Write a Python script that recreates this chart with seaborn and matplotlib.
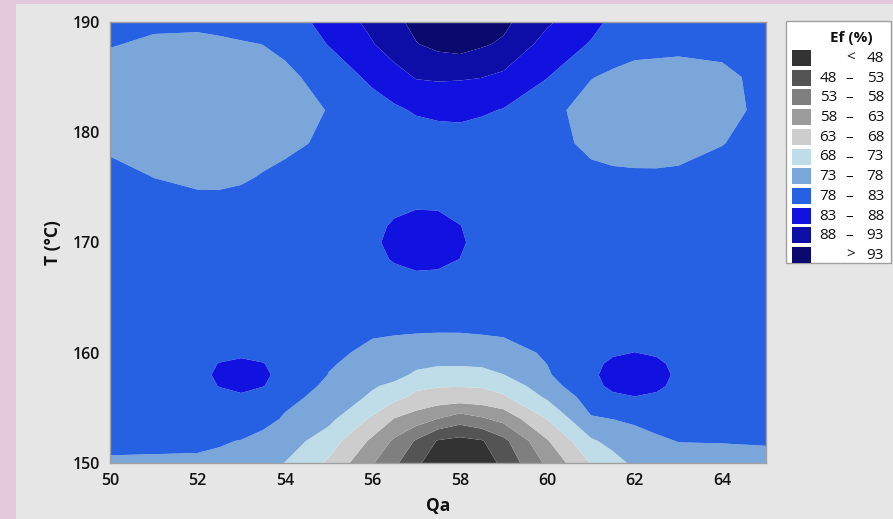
import numpy as np
import matplotlib
matplotlib.use("Agg")
import matplotlib.pyplot as plt
import seaborn as sns
from matplotlib.patches import Rectangle

# ---- data (Ef % on a Qa x T grid) ----
qa = [50, 51, 52, 52.5, 53, 53.5, 54, 55, 56, 56.5, 57, 57.5, 58, 58.5, 59, 60, 61, 61.5, 62, 62.5, 63, 64, 65]
temp = [150, 152, 154, 156, 157, 158, 159, 160, 162, 164, 167, 168.5, 170, 171.5, 173, 176, 179, 182, 185, 188, 190]

ef_150 = [77.3, 77.2, 77.0, 76.75, 76.5, 74.7, 72.9, 67.2, 58.4, 53.9, 49.55, 43.5, 40.0, 45.0, 49.3, 59.0, 68.3, 71.2, 74.0, 75.3, 76.5, 77.2, 77.3]
ef_152 = [79.3, 79.2, 79.2, 78.5, 77.8, 76.5, 75.2, 70.6, 62.0, 57.2, 52.5, 47.6, 46.5, 47.6, 51.7, 62.6, 72.3, 74.55, 76.8, 77.45, 78.1, 78.1, 78.2]
ef_154 = [80.3, 80.5, 81.5, 81.5, 81.5, 79.5, 77.5, 74.2, 67.2, 62.8, 60.6, 57.9, 55.3, 57.3, 59.6, 68.2, 77.6, 78.05, 78.5, 79.25, 80.0, 80.5, 80.5]
ef_156 = [80.3, 80.5, 81.0, 81.75, 82.6, 81.2, 79.2, 76.6, 72.2, 69.5, 67.0, 66.2, 66.1, 66.3, 67.4, 73.8, 80.1, 82.5, 82.95, 82.5, 81.8, 80.8, 80.5]
ef_157 = [80.4, 80.7, 81.4, 83.16, 83.73, 83.16, 81.0, 77.0, 73.5, 72.0, 68.9, 68.3, 68.2, 68.4, 70.0, 75.8, 82.13, 83.65, 84.16, 83.65, 82.13, 81.2, 80.6]
ef_158 = [80.5, 81.0, 81.9, 83.62, 84.2, 83.62, 81.9, 77.9, 76.9, 74.5, 72.2, 70.8, 70.3, 71.0, 72.9, 77.5, 82.47, 83.99, 84.5, 83.99, 82.47, 81.5, 80.8]
ef_159 = [80.5, 81.0, 81.4, 83.16, 83.73, 83.16, 81.4, 78.3, 76.8, 75.5, 74.0, 73.6, 73.7, 73.9, 75.0, 78.05, 82.13, 83.65, 84.16, 83.65, 82.13, 81.2, 80.6]
ef_160 = [80.5, 80.8, 81.0, 81.75, 82.3, 81.75, 80.5, 78.7, 77.3, 77.1, 77.0, 77.0, 77.05, 77.1, 77.3, 78.23, 81.0, 82.6, 83.05, 82.6, 82.0, 81.0, 80.5]
ef_162 = [80.5, 80.6, 81.0, 81.1, 81.2, 80.85, 80.5, 79.6, 78.4, 78.25, 78.15, 78.1, 78.1, 78.2, 78.3, 79.5, 80.5, 80.9, 81.3, 81.15, 81.0, 80.7, 80.5]
ef_164 = [80.5, 80.3, 80.3, 80.4, 80.5, 80.4, 80.3, 80.0, 79.5, 79.4, 79.3, 79.3, 79.3, 79.4, 79.5, 80.0, 80.5, 80.65, 80.8, 80.8, 80.8, 80.8, 80.8]
ef_167 = [80.5, 80.3, 80.2, 80.25, 80.3, 80.4, 80.5, 81.0, 81.3, 81.65, 82.49, 82.33, 81.5, 81.2, 81.2, 80.8, 80.5, 80.5, 80.5, 80.5, 80.5, 80.8, 81.0]
ef_168 = [80.5, 80.25, 80.1, 80.15, 80.25, 80.4, 80.5, 81.0, 81.6, 83.45, 84.29, 84.13, 82.97, 81.3, 81.3, 80.8, 80.5, 80.5, 80.5, 80.5, 80.5, 80.8, 81.0]
ef_170 = [80.5, 80.2, 80.0, 80.1, 80.2, 80.35, 80.5, 81.0, 82.26, 84.1, 84.94, 84.78, 83.62, 81.46, 81.2, 80.8, 80.5, 80.5, 80.5, 80.5, 80.5, 80.8, 81.0]
ef_171 = [80.5, 80.1, 79.9, 80.0, 80.1, 80.3, 80.5, 81.0, 81.76, 83.6, 84.44, 84.28, 83.12, 81.4, 81.3, 80.8, 80.5, 80.5, 80.5, 80.5, 80.5, 80.8, 81.0]
ef_173 = [80.5, 80.0, 79.8, 79.9, 80.0, 80.25, 80.5, 81.0, 81.4, 82.3, 82.98, 82.9, 81.7, 81.3, 81.3, 80.8, 80.5, 80.5, 80.5, 80.5, 80.5, 80.8, 81.0]
ef_176 = [79.5, 77.9, 76.8, 76.7, 77.3, 78.3, 79.3, 80.5, 81.0, 81.2, 81.5, 81.4, 81.2, 81.0, 80.8, 80.5, 79.5, 79.1, 79.0, 78.9, 79.2, 80.3, 81.0]
ef_179 = [77.0, 76.0, 75.5, 75.6, 75.8, 76.2, 76.8, 79.0, 80.5, 80.5, 80.5, 80.5, 80.5, 80.5, 80.5, 80.3, 76.6, 75.6, 75.0, 75.2, 75.5, 77.8, 80.5]
ef_182 = [75.5, 75.0, 74.8, 74.9, 75.0, 75.4, 75.8, 78.2, 81.0, 82.2, 83.5, 84.2, 84.5, 83.6, 82.74, 80.5, 74.8, 74.6, 74.5, 74.5, 74.5, 75.5, 80.0]
ef_185 = [76.5, 75.8, 75.5, 75.7, 76.0, 76.4, 76.8, 80.1, 84.0, 86.2, 88.3, 88.6, 88.4, 88.1, 87.0, 83.1, 78.3, 76.8, 75.4, 75.4, 75.5, 76.8, 79.5]
ef_188 = [78.2, 77.5, 77.3, 77.4, 77.7, 78.05, 79.2, 83.2, 87.75, 90.3, 92.8, 94.3, 95.0, 93.6, 92.3, 86.1, 82.65, 81.6, 80.5, 80.0, 79.5, 79.5, 80.0]
ef_190 = [79.0, 78.6, 78.6, 79.0, 79.5, 79.85, 80.2, 84.9, 89.2, 91.8, 94.3, 95.8, 96.5, 95.6, 94.1, 88.7, 84.3, 82.1, 80.0, 79.7, 79.5, 79.5, 80.0]

levels = [48, 53, 58, 63, 68, 73, 78, 83, 88, 93]
level_colors = ["#333333", "#545454", "#7f7f7f", "#9b9b9b", "#cdcdcd", "#bfdde8",
                "#7aa6d9", "#2561e2", "#1212e0", "#0d0da8", "#0a0a6e"]
legend_title = "Ef (%)"
x_label = "Qa"
y_label = "T (°C)"
x_ticks = [50, 52, 54, 56, 58, 60, 62, 64]
y_ticks = [150, 160, 170, 180, 190]

# ---- style ----
sns.set_style("white")
plt.rcParams["font.family"] = ["Open Sans", "DejaVu Sans"]

W, H = 893, 519
fig = plt.figure(figsize=(W / 100, H / 100), dpi=100, facecolor="#e6e6e6")


def fx(x):
    return x / W


def fy(y):
    return 1 - y / H


# pink frame strips
fig.patches.append(Rectangle((0, 0), fx(16), 1, transform=fig.transFigure,
                             facecolor="#e4c8dc", edgecolor="none", zorder=0))
fig.patches.append(Rectangle((0, fy(4)), 1, 4 / H, transform=fig.transFigure,
                             facecolor="#e4c8dc", edgecolor="none", zorder=0))

ax = fig.add_axes([fx(110), fy(463), fx(766) - fx(110), fy(22) - fy(463)])

Z = np.array([ef_150, ef_152, ef_154, ef_156, ef_157, ef_158, ef_159, ef_160, ef_162,
              ef_164, ef_167, ef_168, ef_170, ef_171, ef_173, ef_176, ef_179, ef_182,
              ef_185, ef_188, ef_190])
bounds = [0] + levels + [200]
pal = sns.color_palette(level_colors)
ax.contourf(qa, temp, Z, levels=bounds, colors=pal, antialiased=True)

ax.set_xlim(50, 65)
ax.set_ylim(150, 190)
ax.set_xticks(x_ticks)
ax.set_yticks(y_ticks)
ax.tick_params(axis="both", which="both", direction="out", length=5, width=1,
               color="#a0a0a0", labelsize=11.5, labelcolor="#111111", pad=2)
for lab in ax.get_xticklabels() + ax.get_yticklabels():
    lab.set_fontweight("semibold")
for s in ax.spines.values():
    s.set_visible(True)
    s.set_color("#a0a0a0")
    s.set_linewidth(1)

ax.set_xlabel(x_label, fontsize=12.5, fontweight="bold", color="#111111", labelpad=6)
ax.set_ylabel(y_label, fontsize=12.5, fontweight="bold", color="#111111", labelpad=8)

# ---- legend (drawn manually, Minitab style) ----
fig.patches.append(Rectangle((fx(786), fy(263)), fx(891) - fx(786), fy(21) - fy(263),
                             transform=fig.transFigure, facecolor="white",
                             edgecolor="#a0a0a0", linewidth=1, zorder=1))
fig.text(fx(851), fy(38), legend_title, ha="center", va="center", fontsize=11,
         fontweight="bold", color="#111111", zorder=3)
labels_lo = ["<"] + [str(v) for v in levels[:-1]] + [">"]
labels_hi = [str(levels[0])] + [str(v) for v in levels[1:]] + [str(levels[-1])]
for i, col in enumerate(level_colors):
    top = 50 + i * 19.7
    fig.patches.append(Rectangle((fx(792), fy(top + 16)), fx(811) - fx(792), 16 / H,
                                 transform=fig.transFigure, facecolor=col,
                                 edgecolor="none", zorder=2))
    yc = fy(top + 8.5)
    if i == 0 or i == len(level_colors) - 1:
        fig.text(fx(851), yc, labels_lo[i], ha="center", va="center", fontsize=11,
                 color="#111111", zorder=3)
    else:
        fig.text(fx(837), yc, labels_lo[i], ha="right", va="center", fontsize=11,
                 color="#111111", zorder=3)
        fig.text(fx(849), yc, "–", ha="center", va="center", fontsize=11,
                 color="#111111", zorder=3)
    fig.text(fx(884), yc, labels_hi[i], ha="right", va="center", fontsize=11,
             color="#111111", zorder=3)

fig.savefig("out.png", dpi=100, facecolor=fig.get_facecolor())
